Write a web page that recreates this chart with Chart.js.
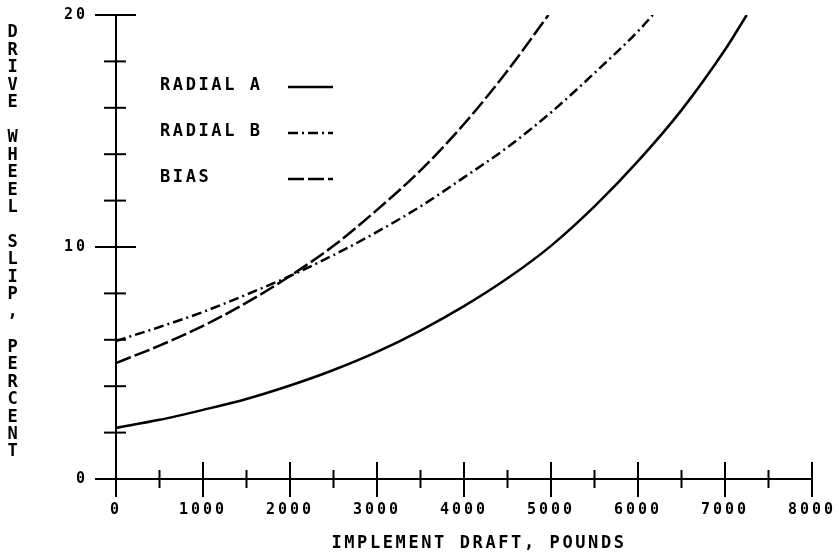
<!DOCTYPE html>
<html>
<head>
<meta charset="utf-8">
<style>
  html, body { margin: 0; padding: 0; background: #fff; }
  #wrap { width: 839px; height: 558px; }
</style>
<script src="https://cdn.jsdelivr.net/npm/chart.js@4.4.1/dist/chart.umd.min.js"></script>
</head>
<body>
<div id="wrap"><canvas id="slipChart" width="839" height="558"></canvas></div>
<script>
// drive wheel slip (%) against implement draft (lb)
const draftA = [0, 500, 1000, 1500, 2000, 2500, 3000, 3500, 4000, 4500, 5000, 5500, 6000, 6500, 7000, 7250];
const slipA  = [2.2, 2.55, 2.98, 3.45, 4.03, 4.7, 5.48, 6.4, 7.45, 8.65, 10.05, 11.75, 13.7, 15.9, 18.5, 20];

const draftB = [0, 500, 1000, 1500, 2000, 2500, 3000, 3500, 4000, 4500, 5000, 5500, 6000, 6170];
const slipB  = [5.95, 6.55, 7.2, 7.95, 8.75, 9.65, 10.65, 11.75, 13.0, 14.3, 15.8, 17.5, 19.3, 20];

const draftBias = [0, 500, 1000, 1500, 2000, 2500, 3000, 3500, 4000, 4500, 4970];
const slipBias  = [5.0, 5.75, 6.6, 7.6, 8.75, 10.05, 11.6, 13.3, 15.3, 17.6, 20];

const seriesNames = ['RADIAL A', 'RADIAL B', 'BIAS'];

const xTicks = [0, 1000, 2000, 3000, 4000, 5000, 6000, 7000, 8000];
const xMinorTicks = [500, 1500, 2500, 3500, 4500, 5500, 6500, 7500];
const yTicks = [0, 10, 20];
const yMinorTicks = [2, 4, 6, 8, 12, 14, 16, 18];

const xTitle = 'IMPLEMENT DRAFT, POUNDS';
const yTitle = 'DRIVE WHEEL SLIP, PERCENT';

const FONT = '"DejaVu Sans Mono", monospace';

function pts(xs, ys) {
    return xs.map((x, i) => ({ x: x, y: ys[i] }));
}

// scales should not push the plot area around, the layout padding does that
function noPad(s) {
    s.paddingTop = 0; s.paddingBottom = 0; s.paddingLeft = 0; s.paddingRight = 0;
}

// plotter style axes, legend and stacked y title
const plotterBits = {
    id: 'plotterBits',
    beforeDraw(chart) {
        chart.ctx.letterSpacing = '3px';
    },
    afterDraw(chart) {
        const ctx = chart.ctx;
        const xs = chart.scales.x, ys = chart.scales.y;
        const x0 = xs.getPixelForValue(0);
        const y0 = ys.getPixelForValue(0);

        ctx.save();
        ctx.strokeStyle = '#000';
        ctx.lineWidth = 2;
        const line = (a, b, c, d) => {
            ctx.beginPath(); ctx.moveTo(a, b); ctx.lineTo(c, d); ctx.stroke();
        };
        line(x0, ys.getPixelForValue(20), x0, y0 + 18);
        line(x0 - 21, y0, xs.getPixelForValue(8000), y0);
        yTicks.forEach(v => { const p = ys.getPixelForValue(v); line(x0 - 21, p, x0 + 20, p); });
        yMinorTicks.forEach(v => { const p = ys.getPixelForValue(v); line(x0 - 12, p, x0 + 10, p); });
        xTicks.forEach(v => { const p = xs.getPixelForValue(v); line(p, y0 - 17, p, y0 + 18); });
        xMinorTicks.forEach(v => { const p = xs.getPixelForValue(v); line(p, y0 - 9, p, y0 + 9); });

        // legend
        ctx.font = 'bold 17px ' + FONT;
        ctx.letterSpacing = '2.6px';
        ctx.fillStyle = '#000';
        ctx.textAlign = 'left';
        ctx.textBaseline = 'middle';
        chart.data.datasets.forEach((ds, i) => {
            const yy = 86 + i * 46;
            ctx.fillText(ds.label, 160, yy);
            ctx.save();
            ctx.lineWidth = 2.5;
            ctx.setLineDash(ds.borderDash || []);
            line(288, yy + 1, 333, yy + 1);
            ctx.restore();
        });

        // x title
        ctx.textAlign = 'center';
        ctx.fillText(xTitle, 479, 544);

        // y title, one letter under the other
        for (let i = 0; i < yTitle.length; i++) {
            ctx.fillText(yTitle[i], 14, 33 + i * 17.46);
        }
        ctx.restore();
    }
};

const ctx = document.getElementById('slipChart').getContext('2d');

const slipChart = new Chart(ctx, {
    type: 'line',
    data: {
        datasets: [{
            label: seriesNames[0],
            data: pts(draftA, slipA),
            borderColor: '#000',
            borderWidth: 2.5,
            borderDash: [],
        }, {
            label: seriesNames[1],
            data: pts(draftB, slipB),
            borderColor: '#000',
            borderWidth: 2.5,
            borderDash: [10, 4, 2, 4],
        }, {
            label: seriesNames[2],
            data: pts(draftBias, slipBias),
            borderColor: '#000',
            borderWidth: 2.5,
            borderDash: [16, 4],
        }]
    },
    options: {
        responsive: false,
        animation: false,
        events: [],
        layout: {
            padding: { left: 0, top: 15, right: 27, bottom: 0 }
        },
        elements: {
            point: { radius: 0, hitRadius: 0 },
            line: { cubicInterpolationMode: 'monotone', fill: false }
        },
        plugins: {
            legend: { display: false },
            tooltip: { enabled: false },
        },
        scales: {
            x: {
                type: 'linear',
                min: 0,
                max: 8000,
                afterBuildTicks: s => { s.ticks = xTicks.map(v => ({ value: v })); },
                afterFit: s => { s.height = 79; noPad(s); },
                ticks: {
                    color: '#000',
                    padding: 22,
                    maxRotation: 0,
                    callback: v => String(v),
                    font: { family: FONT, size: 15, weight: 'bold' },
                },
                grid: { display: false, drawTicks: false, tickLength: 0 },
                border: { display: false },
            },
            y: {
                type: 'linear',
                min: 0,
                max: 20,
                afterBuildTicks: s => { s.ticks = yTicks.map(v => ({ value: v })); },
                afterFit: s => { s.width = 116; noPad(s); },
                ticks: {
                    color: '#000',
                    padding: 28,
                    callback: v => String(v),
                    font: { family: FONT, size: 15, weight: 'bold' },
                },
                grid: { display: false, drawTicks: false, tickLength: 0 },
                border: { display: false },
            }
        }
    },
    plugins: [plotterBits]
});
</script>
</body>
</html>
